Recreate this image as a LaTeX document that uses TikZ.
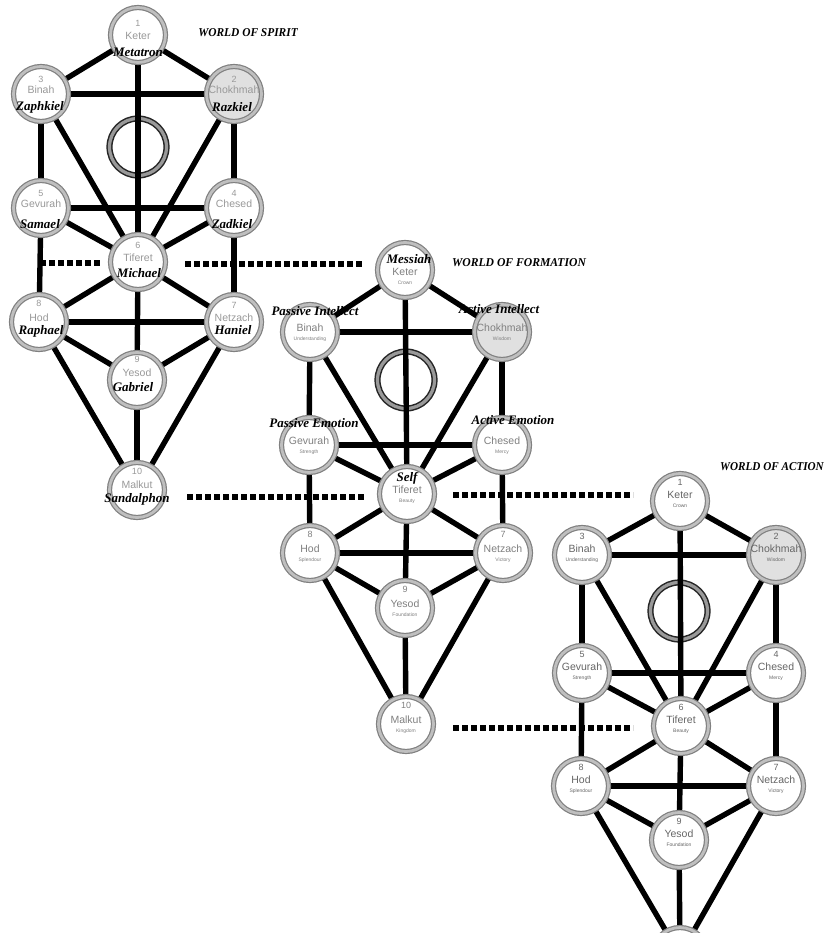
\documentclass[tikz,border=0pt]{standalone}
\usepackage{fontspec}
\setmainfont{Liberation Serif}
\setsansfont{Liberation Sans}
\usetikzlibrary{backgrounds}
\tikzset{
  sef/.style={circle, minimum size=55pt, inner sep=0pt, outer sep=0pt,
    draw=black!50, double=black!25, line width=1.2pt, double distance=2.8pt},
  daat/.style={circle, minimum size=57pt, inner sep=0pt, outer sep=0pt,
    draw=black!85, double=black!40, line width=1.5pt, double distance=3.2pt},
  conn/.style={line width=5.4pt, black},
  dotconn/.style={line width=5.4pt, black, dash pattern=on 6pt off 3pt},
  sefnum/.style={font=\sffamily\fontsize{9}{9}\selectfont, inner sep=0pt},
  sefname/.style={font=\sffamily\fontsize{10.5}{10.5}\selectfont, inner sep=0pt},
  sefeng/.style={font=\sffamily\fontsize{5}{5}\selectfont, inner sep=0pt},
  angel/.style={font=\bfseries\itshape\fontsize{13}{13}\selectfont, inner sep=0pt},
  world/.style={font=\bfseries\itshape\fontsize{12}{12}\selectfont, inner sep=0pt},
}
\newcommand\ifnonempty[2]{\if\relax\detokenize{#1}\relax\else #2\fi}
\newcommand\sefira[7]{%
  \node[sef,fill=#7] (#1) at (#2,#3) {};
  \ifnonempty{#4}{\node[sefnum,text=\sefcol] (#1n) at (#2,{#3+\numoff}) {#4};}
  \ifnonempty{#5}{\node[sefname,text=\sefcol] (#1h) at (#2,{#3+\nameoff}) {#5};}
  \ifnonempty{#6}{\node[sefeng,text=\sefcol] (#1e) at (#2,{#3+\engoff}) {#6};}
}
\newcommand\treelinks[1]{%
  \foreach \pa/\pb in {1/2,1/3,1/6,2/3,2/4,2/6,3/5,3/6,4/5,4/6,4/7,5/6,5/8,6/7,6/8,6/9,7/8,7/9,7/10,8/9,8/10,9/10}
    {\draw[conn] (#1\pa) -- (#1\pb);}
}
\begin{document}
\begin{tikzpicture}[x=1pt,y=-1pt]
\useasboundingbox (0,0) rectangle (827,933);
\begin{scope}
\clip (0,0) rectangle (827,933);

% ---------- World of Spirit ----------
\def\sefcol{black!40}\def\engoff{8}
\def\numoff{-12}\def\nameoff{1}
\sefira{a1}{138}{35}{1}{Keter}{}{white}
\def\numoff{-15}\def\nameoff{-4}
\sefira{a2}{234}{94}{2}{Chokhmah}{}{black!12}
\sefira{a3}{41}{94}{3}{Binah}{}{white}
\sefira{a4}{234}{208}{4}{Chesed}{}{white}
\sefira{a5}{41}{208}{5}{Gevurah}{}{white}
\def\numoff{-17}
\sefira{a6}{138}{262}{6}{Tiferet}{}{white}
\sefira{a7}{234}{322}{7}{Netzach}{}{white}
\def\numoff{-19}
\sefira{a8}{39}{322}{8}{Hod}{}{white}
\def\numoff{-21}\def\nameoff{-7}
\sefira{a9}{137}{380}{9}{Yesod}{}{white}
\def\numoff{-19}\def\nameoff{-5}
\sefira{a10}{137}{490}{10}{Malkut}{}{white}

% ---------- World of Formation ----------
\def\sefcol{black!50}\def\numoff{-19}\def\nameoff{2}\def\engoff{13}
\sefira{b1}{405}{270}{}{Keter}{Crown}{white}
\def\nameoff{-4}\def\engoff{7}
\sefira{b2}{502}{332}{}{Chokhmah}{Wisdom}{black!12}
\sefira{b3}{310}{332}{}{Binah}{Understanding}{white}
\sefira{b4}{502}{445}{}{Chesed}{Mercy}{white}
\sefira{b5}{309}{445}{}{Gevurah}{Strength}{white}
\sefira{b6}{407}{494}{}{Tiferet}{Beauty}{white}
\sefira{b7}{503}{553}{7}{Netzach}{Victory}{white}
\sefira{b8}{310}{553}{8}{Hod}{Splendour}{white}
\sefira{b9}{405}{608}{9}{Yesod}{Foundation}{white}
\sefira{b10}{406}{724}{10}{Malkut}{Kingdom}{white}

% ---------- World of Action ----------
\def\sefcol{black!60}\def\numoff{-19}\def\nameoff{-6}\def\engoff{5}
\sefira{c1}{680}{501}{1}{Keter}{Crown}{white}
\sefira{c2}{776}{555}{2}{Chokhmah}{Wisdom}{black!12}
\sefira{c3}{582}{555}{3}{Binah}{Understanding}{white}
\sefira{c4}{776}{673}{4}{Chesed}{Mercy}{white}
\sefira{c5}{582}{673}{5}{Gevurah}{Strength}{white}
\sefira{c6}{681}{726}{6}{Tiferet}{Beauty}{white}
\sefira{c7}{776}{786}{7}{Netzach}{Victory}{white}
\sefira{c8}{581}{786}{8}{Hod}{Splendour}{white}
\sefira{c9}{679}{840}{9}{Yesod}{Foundation}{white}
\sefira{c10}{680}{955}{}{}{}{white}
\end{scope}

% ---------- dotted link ends ----------
\coordinate (d1s) at (40,263);  \coordinate (d1e) at (102,263);
\coordinate (d2s) at (185,264); \coordinate (d2e) at (363,264);
\coordinate (d3s) at (187,497); \coordinate (d3e) at (364,497);
\coordinate (d4s) at (453,495); \coordinate (d4e) at (633,495);
\coordinate (d5s) at (453,728); \coordinate (d5e) at (633,728);

\begin{pgfonlayer}{background}
  \fill[white] (0,0) rectangle (827,933);
  \node[daat] (aD) at (138,147) {};
  \node[daat] (bD) at (406,380) {};
  \node[daat] (cD) at (679,611) {};
  \treelinks{a}
  \treelinks{b}
  \treelinks{c}
  \draw[dotconn] (d1s) -- (d1e);
  \draw[dotconn] (d2s) -- (d2e);
  \draw[dotconn] (d3s) -- (d3e);
  \draw[dotconn] (d4s) -- (d4e);
  \draw[dotconn] (d5s) -- (d5e);
\end{pgfonlayer}

% ---------- overlay names ----------
\node[angel] (metatron) at (138,52) {Metatron};
\node[angel] (zaphkiel) at (40,107) {Zaphkiel};
\node[angel] (razkiel) at (232,107) {Razkiel};
\node[angel] (samael) at (40,224) {Samael};
\node[angel] (zadkiel) at (232,224) {Zadkiel};
\node[angel] (michael) at (139,273) {Michael};
\node[angel] (raphael) at (41,331) {Raphael};
\node[angel] (haniel) at (233,330) {Haniel};
\node[angel] (gabriel) at (133,387) {Gabriel};
\node[angel] (sandalphon) at (137,499) {Sandalphon};

\node[angel] (messiah) at (409,259) {Messiah};
\node[angel] (passint) at (315,311) {Passive Intellect};
\node[angel] (actint) at (499,309) {Active Intellect};
\node[angel] (passemo) at (314,423) {Passive Emotion};
\node[angel] (actemo) at (513,420) {Active Emotion};
\node[angel] (self) at (407,478) {Self};

% ---------- headings ----------
\node[world] (wspirit) at (248,33) {\scalebox{0.95}[1]{WORLD OF SPIRIT}};
\node[world] (wformation) at (519,263) {\scalebox{0.97}[1]{WORLD OF FORMATION}};
\node[world] (waction) at (772,467) {\scalebox{0.93}[1]{WORLD OF ACTION}};
\end{tikzpicture}
\end{document}
